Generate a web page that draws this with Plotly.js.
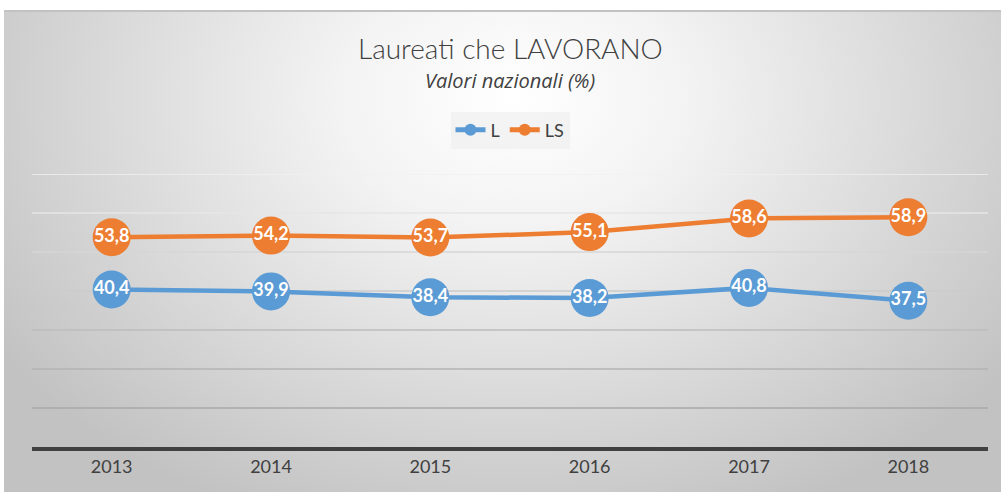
<!DOCTYPE html>
<html>
<head>
<meta charset="utf-8">
<script src="https://cdn.plot.ly/plotly-3.0.1.min.js"></script>
<style>
  html, body { margin:0; padding:0; background:#ffffff; }
  #wrap { position:relative; width:1001px; height:492px; overflow:hidden; }
  #bg { position:absolute; left:4px; top:10px; width:997px; height:482px;
        border-top:2px solid #c2c2c2; box-sizing:border-box;
        background: radial-gradient(ellipse 62% 95% at 51% 18%, #ffffff 0%, #f3f3f3 28%, #dcdcdc 62%, #c2c2c2 100%); }
  #chart { position:absolute; left:0; top:0; width:1001px; height:492px; }
</style>
</head>
<body>
<div id="wrap">
  <div id="bg"></div>
  <div id="chart"></div>
</div>
<script>
var years = ['2013', '2014', '2015', '2016', '2017', '2018'];
var seriesL = [40.4, 39.9, 38.4, 38.2, 40.8, 37.5];
var seriesLS = [53.8, 54.2, 53.7, 55.1, 58.6, 58.9];
var gridValues = [10, 20, 30, 40, 50, 60, 70];
var gridColors = ['#a9a9a9', '#b3b3b3', '#bdbdbd', '#cbcbcb', '#d6d6d6', '#e6e6e6', '#f0f0f0'];

function fmt(v) { return v.toFixed(1).replace('.', ','); }

var labelFont = { family: 'Lato, sans-serif', size: 18, color: '#ffffff', weight: 'bold' };

var traceL = {
  x: years, y: seriesL, name: 'L', type: 'scatter', mode: 'lines+markers+text',
  line: { color: '#5b9bd5', width: 4.5 },
  marker: { color: '#5b9bd5', size: 38, line: { width: 0 } },
  text: seriesL.map(fmt), textposition: 'middle center', textfont: labelFont,
  cliponaxis: false, hoverinfo: 'x+y'
};
var traceLS = {
  x: years, y: seriesLS, name: 'LS', type: 'scatter', mode: 'lines+markers+text',
  line: { color: '#ed7d31', width: 4.5 },
  marker: { color: '#ed7d31', size: 38, line: { width: 0 } },
  text: seriesLS.map(fmt), textposition: 'middle center', textfont: labelFont,
  cliponaxis: false, hoverinfo: 'x+y'
};

var shapes = gridValues.map(function (v, i) {
  return { type: 'line', xref: 'paper', yref: 'y', x0: 0, x1: 1, y0: v, y1: v,
           line: { color: gridColors[i], width: 1.5 }, layer: 'below' };
});

var layout = {
  width: 1001, height: 492,
  margin: { l: 32, r: 13, t: 174, b: 45, pad: 0 },
  paper_bgcolor: 'rgba(0,0,0,0)', plot_bgcolor: 'rgba(0,0,0,0)',
  showlegend: true,
  legend: {
    orientation: 'h', x: 0.5, xanchor: 'center', y: 1.161, yanchor: 'middle',
    bgcolor: 'rgba(232,232,232,0.45)', itemsizing: 'constant',
    font: { family: 'Lato, sans-serif', size: 18, color: '#404040' }
  },
  xaxis: {
    type: 'category', range: [-0.5, 5.5], showgrid: false, zeroline: false,
    showline: true, linecolor: '#404040', linewidth: 4, ticks: '',
    tickfont: { family: 'Lato, sans-serif', size: 18, color: '#404040' },
    fixedrange: true
  },
  yaxis: {
    range: [0, 70], showgrid: false, zeroline: false, showticklabels: false,
    showline: false, ticks: '', fixedrange: true
  },
  shapes: shapes,
  annotations: [
    { text: 'Laureati che LAVORANO', xref: 'paper', yref: 'paper', x: 0.5, y: 1.4615,
      xanchor: 'center', yanchor: 'middle', showarrow: false,
      font: { family: 'Lato, sans-serif', size: 28, color: '#404040', weight: 300 } },
    { text: 'Valori nazionali (%)', xref: 'paper', yref: 'paper', x: 0.5, y: 1.342,
      xanchor: 'center', yanchor: 'middle', showarrow: false,
      font: { family: '"Open Sans", sans-serif', size: 20, color: '#404040', weight: 400, style: 'italic' } }
  ]
};

Plotly.newPlot('chart', [traceL, traceLS], layout, { displayModeBar: false, staticPlot: true });
</script>
</body>
</html>
